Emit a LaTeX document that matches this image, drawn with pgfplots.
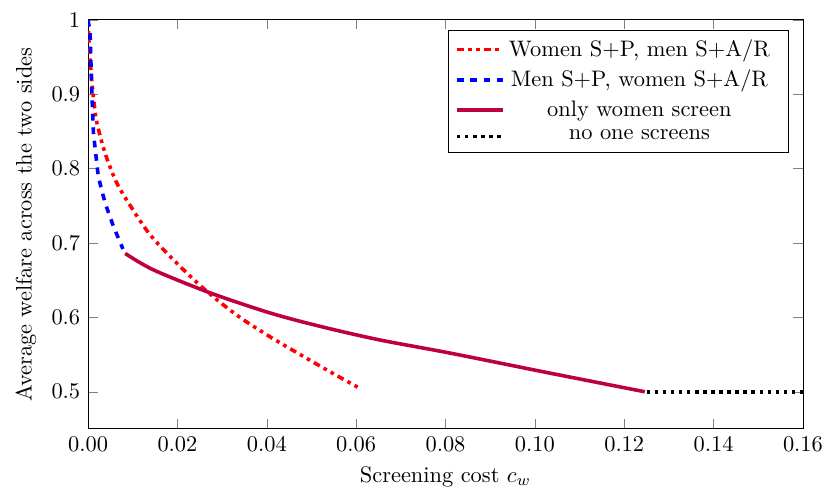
\documentclass[border=0pt]{standalone}
\usepackage{pgfplots}
\pgfplotsset{compat=1.18}
\begin{document}
\begin{tikzpicture}
\begin{axis}[
  scale only axis,
  width=319pt, height=182.5pt,
  xmin=0, xmax=0.16, ymin=0.45, ymax=1,
  xtick={0,0.02,...,0.16},
  ytick={0.5,0.6,0.7,0.8,0.9,1},
  x tick label style={/pgf/number format/.cd, fixed, fixed zerofill, precision=2},
  scaled x ticks=false,
  xlabel={Screening cost $c_w$},
  ylabel={Average welfare across the two sides},
  legend cell align=center,
  legend style={row sep=0.6pt, at={(0.98,0.975)}, anchor=north east},
  legend image code/.code={\draw[#1] plot coordinates {(0cm,0cm) (0.36cm,0cm) (0.72cm,0cm)};},
]
\addplot[red, ultra thick, dashdotdotted, smooth] coordinates {
(0,1) (0.0003,0.96) (0.0008,0.92) (0.0014,0.885) (0.002,0.861) (0.0038,0.821)
(0.0064,0.781) (0.0098,0.747) (0.0139,0.711) (0.0195,0.675) (0.0262,0.637)
(0.0333,0.603) (0.0407,0.574) (0.0489,0.545) (0.0550,0.524) (0.0610,0.504)
};
\addlegendentry{Women S+P, men S+A/R\hspace*{3.2pt}}
\addplot[blue, ultra thick, dashed] coordinates {
(0,1) (0.00045,0.982) (0.0008,0.91) (0.0012,0.848) (0.0023,0.789)
(0.0038,0.754) (0.0057,0.722) (0.0078,0.692)
};
\addlegendentry{Men S+P, women S+A/R\hspace*{3.2pt}}
\addplot[purple, ultra thick, smooth] coordinates {
(0.0083,0.686) (0.0146,0.664) (0.0273,0.633) (0.0407,0.606) (0.0519,0.588)
(0.065,0.570) (0.081,0.552) (0.1034,0.525) (0.1246,0.500)
};
\addlegendentry{only women screen\hspace*{3.2pt}}
\addplot[black, ultra thick, dotted] coordinates {
(0.125,0.5) (0.16,0.5)
};
\addlegendentry{no one screens\hspace*{3.2pt}}
\end{axis}
\pgfresetboundingbox
\path[use as bounding box] ([xshift=-39.3pt,yshift=-27.2pt]current axis.south west) rectangle ([xshift=8.5pt,yshift=8.9pt]current axis.north east);
\end{tikzpicture}
\end{document}
